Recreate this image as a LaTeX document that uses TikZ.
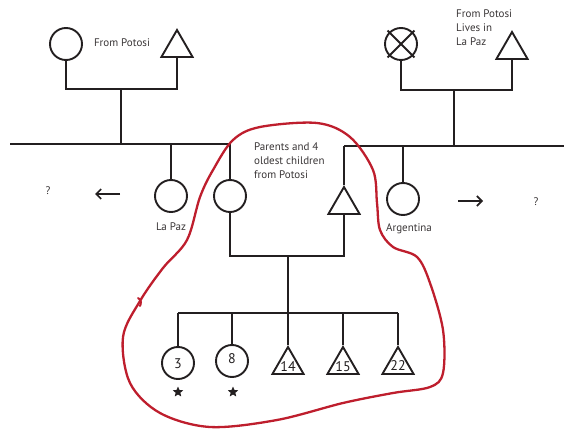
\documentclass[tikz,border=0pt]{standalone}
\usepackage{fontspec}
\setmainfont{PT Sans}
\usetikzlibrary{shapes.geometric,arrows.meta}
\definecolor{ink}{RGB}{35,31,32}
\definecolor{pen}{RGB}{190,30,45}
\tikzset{
  x=1pt, y=-1pt,
  line/.style={draw=ink, line width=1.9pt},
  female/.style={circle, draw=ink, line width=1.9pt, minimum size=32pt, inner sep=0pt},
  male/.style={regular polygon, regular polygon sides=3, draw=ink, line width=1.9pt,
               minimum size=36pt, inner sep=0pt},
  note/.style={font=\fontsize{11}{14}\selectfont, text=ink!90, inner sep=0pt},
  num/.style={font=\fontsize{14}{14}\selectfont, text=ink, inner sep=0pt},
  mark star/.style={star, star points=5, star point ratio=2.2, fill=ink, draw=none,
                    minimum size=11pt, inner sep=0pt},
  migr/.style={draw=ink, line width=1.6pt, -{Straight Barb[length=5pt,width=10pt,line width=1.6pt]}},
}
\begin{document}
\begin{tikzpicture}
\useasboundingbox (0,0) rectangle (564,430);

% grandparents, left side
\node[female] (gm1) at (66,44) {};
\node[male] (gf1) at (177,48) {};
\node[note] (t1) at (122,43) {From Potosi};
\coordinate (j1) at (121,89);
\draw[line] (gm1.south) |- (j1) -| (gf1.south);
\coordinate (s1) at (121,144);
\draw[line] (j1) -- (s1);

% grandparents, right side
\node[female] (gm2) at (401,44) {};
\draw[line, shorten <=-2pt, shorten >=-2pt] (gm2.north west) -- (gm2.south east);
\draw[line, shorten <=-2pt, shorten >=-2pt] (gm2.north east) -- (gm2.south west);
\node[male] (gf2) at (512,50) {};
\node[note, align=left, anchor=north west] (t2) at (456,10) {From Potosi\\Lives in\\La Paz};
\coordinate (j2) at (454,90);
\draw[line] (gm2.south) |- (j2) -| (gf2.south);
\coordinate (s2) at (454,146);
\draw[line] (j2) -- (s2);

% sibling lines of the parents' generation
\coordinate (la) at (10,144);
\coordinate (lb) at (231,144);
\coordinate (ra) at (344,146);
\coordinate (rb) at (564,146);
\draw[line] (la) -- (lb);
\draw[line] (ra) -- (rb);

% parents' generation
\node[female] (lapaz) at (171,196) {};
\draw[line] (lapaz.north |- la) -- (lapaz.north);
\node[note] (tlp) at (171,227) {La Paz};

\node[female] (mo) at (230,196) {};
\draw[line] (mo.north |- la) -- (mo.north);

\node[male] (fa) at (344,205) {};
\draw[line] (ra) -- (fa.north);

\node[female] (arg) at (403,199) {};
\draw[line] (arg.north |- ra) -- (arg.north);
\node[note] (targ) at (409,229) {Argentina};

\node[note, align=left, anchor=north west] (tpar) at (254,142) {Parents and 4\\oldest children\\from Potosi};

% couple and children
\coordinate (cm) at (230,256);
\coordinate (cf) at (344,256);
\draw[line] (mo.south) -- (cm) -- (cf) -- (fa.south);
\coordinate (cc) at (288,256);
\coordinate (cs) at (288,313);
\draw[line] (cc) -- (cs);

\node[female] (k1) at (178,363) {};
\node[female] (k2) at (232,361) {};
\node[male] (k3) at (288,365) {};
\node[male] (k4) at (343,365) {};
\node[male] (k5) at (398,365) {};
\coordinate (sa) at (178,313);
\coordinate (sb) at (398,313);
\draw[line] (sa) -- (sb);
\foreach \k in {k1,k2,k3,k4,k5} \draw[line] (\k.north |- sa) -- (\k.north);

\node[num] (n1) at (178,364) {3};
\node[num] (n2) at (232,359) {8};
\node[num] (n3) at (288,367) {14};
\node[num] (n4) at (343,367) {15};
\node[num] (n5) at (398,366) {22};

\node[mark star] (st1) at (178,392) {};
\node[mark star] (st2) at (233,392) {};

% moves away from Potosi
\node[note] (q1) at (48,191) {?};
\node[note] (q2) at (536,202) {?};
\coordinate (a1) at (120,194);
\coordinate (a2) at (95,194);
\coordinate (b1) at (458,201);
\coordinate (b2) at (483,201);
\draw[migr] (a1) -- (a2);
\draw[migr] (b1) -- (b2);

% hand-drawn outline round the family that came from Potosi
\draw[pen, line width=2.3pt, line join=round] plot[smooth cycle, tension=0.55] coordinates {
  (140,301) (163,268) (187,240) (200,197) (213,170) (233,140) (260,127) (317,123)
  (350,137) (373,170) (377,203) (380,230) (393,247) (417,257) (430,283) (443,330)
  (443,373) (430,387) (393,393) (343,403) (277,420) (210,427) (160,413) (130,383)
  (123,337)};
\draw[pen, line width=2pt, line cap=round] (138,298) .. controls (142,300) and (141,304) .. (140,306);
\end{tikzpicture}
\end{document}
